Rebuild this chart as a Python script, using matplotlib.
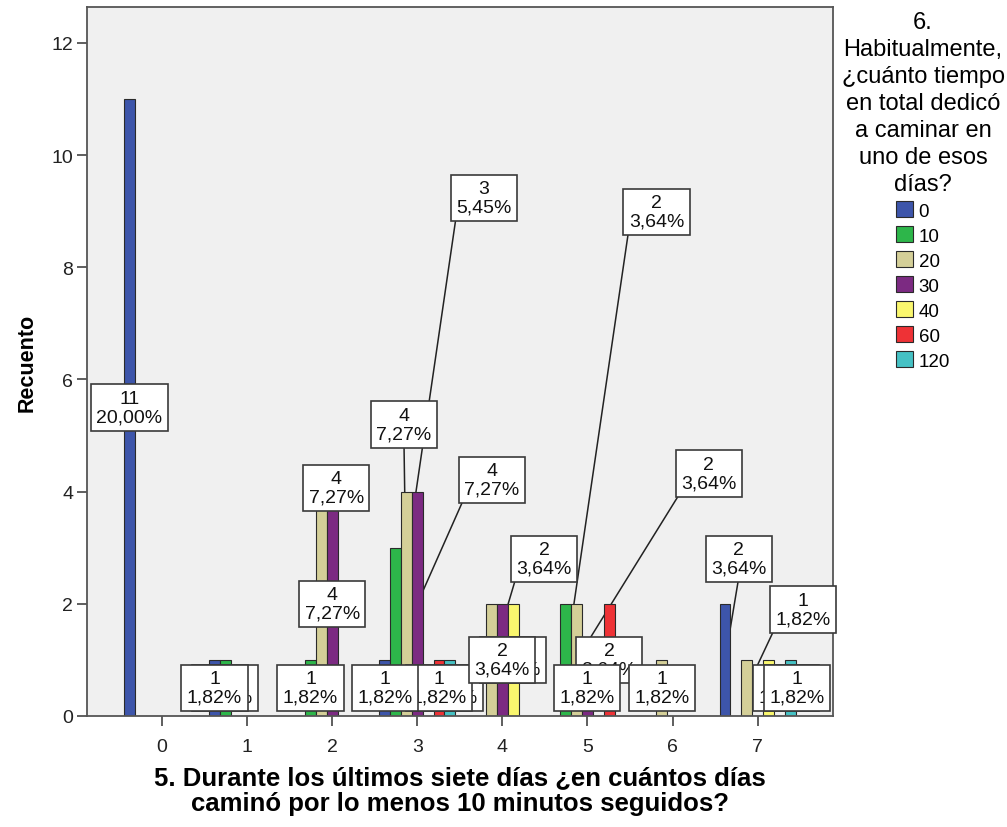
import matplotlib
matplotlib.use("Agg")
import matplotlib.pyplot as plt
from matplotlib.patches import Patch
import numpy as np

plt.rcParams['font.family'] = ['Liberation Sans', 'DejaVu Sans']

# categories (x axis) and series (legend)
days = [0, 1, 2, 3, 4, 5, 6, 7]
minutes = ['0', '10', '20', '30', '40', '60', '120']

# counts per series, one value per day
c0 = [11, 1, 0, 1, 0, 0, 0, 2]
c10 = [0, 1, 1, 3, 0, 2, 0, 0]
c20 = [0, 0, 4, 4, 2, 2, 1, 1]
c30 = [0, 0, 4, 4, 2, 1, 0, 0]
c40 = [0, 0, 0, 0, 2, 0, 0, 1]
c60 = [0, 0, 0, 1, 0, 2, 0, 0]
c120 = [0, 0, 0, 1, 0, 0, 0, 1]
counts = [c0, c10, c20, c30, c40, c60, c120]

colors = ['#3d55aa', '#2db64a', '#d4cf98', '#7c2a82', '#faf76e', '#ee3236', '#45c1c4']

# labels that were moved away from their bar: (day, series) -> (x, y, leader start)
moved = {
    (2, 2): (2.050, 4.064, 0.5),
    (3, 1): (3.784, 9.234, 0.0),
    (3, 2): (2.844, 5.196, 0.5),
    (3, 3): (3.878, 4.207, 0.0),
    (4, 2): (4.489, 2.799, 0.0),
    (5, 1): (5.811, 8.984, 0.0),
    (5, 2): (6.428, 4.323, 0.0),
    (7, 0): (6.780, 2.799, 0.5),
    (7, 2): (7.533, 1.898, 0.0),
    (7, 4): (7.462, 0.5, None),
    (7, 6): (7.333, 0.5, None),
}

total = sum(sum(c) for c in counts)
w = 0.1275
x = np.array(days, dtype=float)

fig = plt.figure(figsize=(10.07, 8.28), dpi=100)
ax = fig.add_axes([87/1007, 1-717/828, (833-87)/1007, (717-8)/828])
ax.set_facecolor('#f0f0f0')

handles = []
for s in range(len(minutes)):
    ax.bar(x + (s-3)*w, counts[s], width=w, color=colors[s],
           edgecolor='#2a2a2a', linewidth=0.8, zorder=2)
    handles.append(Patch(facecolor=colors[s], edgecolor='#2a2a2a', linewidth=0.8))

box = dict(boxstyle='square,pad=0.28', facecolor='white', edgecolor='#3a3a3a', linewidth=1.2)
for d in days:
    for s in reversed(range(len(minutes))):
        v = counts[s][d]
        if v == 0:
            continue
        bx = d + (s-3)*w
        by = v/2
        pct = ('%.2f' % (v*100.0/total)).replace('.', ',')
        txt = '%d\n%s%%' % (v, pct)
        tx, ty, rel = bx, by, None
        if (d, s) in moved:
            tx, ty, rel = moved[(d, s)]
        if rel is not None:
            ax.annotate(txt, xy=(bx, by), xytext=(tx, ty), ha='center', va='center',
                        fontsize=14, linespacing=1.1, color='none', zorder=1.5,
                        arrowprops=dict(arrowstyle='-', color='#222222', lw=1.1,
                                        relpos=(rel, 0.0), shrinkA=0, shrinkB=0))
        ax.annotate(txt, xy=(tx, ty), ha='center', va='center', fontsize=14,
                    linespacing=1.1, color='#111111', bbox=box, zorder=4,
                    annotation_clip=False)

ax.set_xlim(-0.881, 7.886)
ax.set_ylim(0, 12.64)
ax.set_xticks(days)
ax.set_yticks(range(0, 13, 2))
ax.tick_params(labelsize=14, length=7, width=1.1, color='#333333', labelcolor='#222222')
ax.tick_params(axis='x', pad=9)
ax.tick_params(axis='y', pad=3)
for sp in ax.spines.values():
    sp.set_color('#555555')
    sp.set_linewidth(1.3)

ax.set_ylabel('Recuento', fontsize=15.5, fontweight='bold', labelpad=10)
ax.set_xlabel('5. Durante los últimos siete días ¿en cuántos días\ncaminó por lo menos 10 minutos seguidos?',
              fontsize=18.5, fontweight='bold', labelpad=7, linespacing=1.12)

leg = ax.legend(handles, minutes, title='6.\nHabitualmente,\n¿cuánto tiempo\nen total dedicó\na caminar en\nuno de esos\ndías?',
                loc='upper center', bbox_to_anchor=(923/1007, 1+1/828), bbox_transform=fig.transFigure,
                frameon=False, fontsize=13.5, title_fontsize=17, handlelength=0.9, handleheight=0.9,
                handletextpad=0.3, labelspacing=0.36, borderpad=0.2)
leg.get_title().set_linespacing(1.29)
leg.get_title().set_multialignment('center')

fig.savefig('out.png', dpi=100)
